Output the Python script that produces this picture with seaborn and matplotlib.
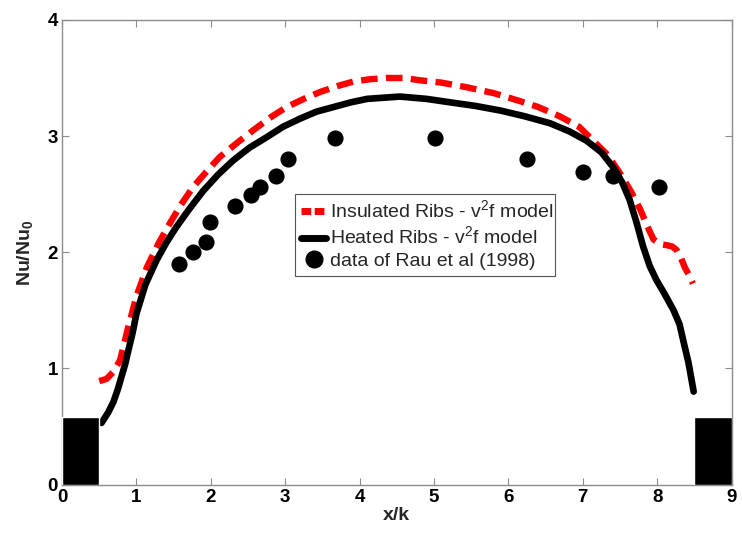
import matplotlib
matplotlib.use("Agg")
import matplotlib.pyplot as plt
import seaborn as sns
import pandas as pd
from matplotlib.lines import Line2D

# ---- data ----
ins_x = [0.50, 0.60, 0.69, 0.78, 0.88, 1.00, 1.14, 1.30, 1.45, 1.60, 1.76, 1.95, 2.12, 2.35,
         2.57, 2.80, 3.02, 3.25, 3.47, 3.70, 3.92, 4.15, 4.36, 4.60, 4.81, 5.10, 5.44, 5.80,
         6.11, 6.40, 6.69, 6.95, 7.14, 7.33, 7.50, 7.65, 7.77, 7.87, 7.95, 8.04, 8.13, 8.20,
         8.26, 8.32, 8.37, 8.43, 8.48]
ins_y = [0.89, 0.91, 0.97, 1.07, 1.33, 1.62, 1.87, 2.08, 2.25, 2.41, 2.56, 2.70, 2.82, 2.94,
         3.05, 3.16, 3.25, 3.32, 3.38, 3.43, 3.47, 3.49, 3.50, 3.50, 3.48, 3.46, 3.42, 3.37,
         3.31, 3.25, 3.17, 3.08, 2.96, 2.84, 2.68, 2.52, 2.37, 2.22, 2.11, 2.07, 2.06, 2.05,
         2.02, 1.95, 1.87, 1.80, 1.73]

heat_x = [0.53, 0.62, 0.69, 0.75, 0.80, 0.85, 0.89, 0.95, 1.00, 1.12, 1.27, 1.40, 1.54, 1.72,
          1.90, 2.10, 2.30, 2.52, 2.75, 2.97, 3.20, 3.42, 3.65, 3.88, 4.10, 4.32, 4.54, 4.90,
          5.22, 5.55, 5.89, 6.22, 6.56, 6.82, 7.05, 7.25, 7.41, 7.53, 7.63, 7.72, 7.81, 7.90,
          7.99, 8.10, 8.22, 8.30, 8.35, 8.42, 8.49]
heat_y = [0.53, 0.62, 0.71, 0.82, 0.93, 1.04, 1.15, 1.31, 1.47, 1.72, 1.93, 2.08, 2.22, 2.38,
          2.53, 2.67, 2.79, 2.90, 2.99, 3.08, 3.15, 3.21, 3.25, 3.29, 3.32, 3.33, 3.34, 3.32,
          3.29, 3.26, 3.22, 3.17, 3.11, 3.04, 2.96, 2.86, 2.73, 2.60, 2.45, 2.26, 2.05, 1.88,
          1.76, 1.64, 1.50, 1.38, 1.24, 1.05, 0.80]

data_x = [1.57, 1.76, 1.93, 1.99, 2.33, 2.54, 2.66, 2.88, 3.04, 3.67, 5.01, 6.25, 7.00, 7.41, 8.02]
data_y = [1.90, 2.00, 2.09, 2.26, 2.40, 2.49, 2.56, 2.66, 2.80, 2.98, 2.98, 2.80, 2.69, 2.66, 2.56]

rib_left = [0.0, 8.5]
rib_width = [0.5, 0.5]
rib_height = [0.58, 0.58]

labels = ["Insulated Ribs - v$^2$f model", "Heated Ribs - v$^2$f model", "data of Rau et al (1998)"]
xticks = [0, 1, 2, 3, 4, 5, 6, 7, 8, 9]
yticks = [0, 1, 2, 3, 4]

# ---- style ----
sns.set_theme(style="white")
plt.rcParams['font.family'] = ['Liberation Sans', 'DejaVu Sans']
plt.rcParams['mathtext.fontset'] = 'custom'
plt.rcParams['mathtext.rm'] = 'Liberation Sans'
plt.rcParams['mathtext.bf'] = 'Liberation Sans:bold'

fig = plt.figure(figsize=(7.42, 5.38), dpi=100)
ax = fig.add_axes([0.0836, 0.0994, 0.9024, 0.8636])

df_ins = pd.DataFrame({"x": ins_x, "y": ins_y})
df_heat = pd.DataFrame({"x": heat_x, "y": heat_y})
df_data = pd.DataFrame({"x": data_x, "y": data_y})

sns.lineplot(data=df_ins, x="x", y="y", ax=ax, color="red", lw=4.6, sort=False,
             estimator=None, zorder=3)
ln = ax.lines[-1]
ln.set_dashes((2.6, 1.3))
ln.set_solid_joinstyle("round")
ln.set_dash_joinstyle("round")
sns.lineplot(data=df_heat, x="x", y="y", ax=ax, color="black", lw=4.8, sort=False,
             estimator=None, zorder=4)
ax.lines[-1].set_solid_joinstyle("round")
sns.scatterplot(data=df_data, x="x", y="y", ax=ax, color="black", s=135, edgecolor="black",
                linewidth=0, zorder=5)

ax.bar(rib_left, rib_height, width=rib_width, align="edge", color="black", zorder=6)

ax.set_xlim(0, 9)
ax.set_ylim(0, 4)
ax.set_xticks(xticks)
ax.set_yticks(yticks)
ax.set_xticklabels([str(t) for t in xticks], fontsize=13.5, fontweight="bold")
ax.set_yticklabels([str(t) for t in yticks], fontsize=13.5, fontweight="bold")
ax.set_xlabel("x/k", fontsize=14, fontweight="bold", labelpad=1)
ax.set_ylabel(r"Nu/Nu$_\mathbf{0}$", fontsize=14, fontweight="bold", labelpad=8)

for s in ax.spines.values():
    s.set_visible(True)
    s.set_color("#8c8c8c")
    s.set_linewidth(1.0)
ax.tick_params(direction="in", length=5, width=0.8, color="#8c8c8c", top=True, right=True,
               bottom=True, left=True, pad=3, labelcolor="black")

handles = [
    Line2D([], [], color="red", lw=5, dashes=(1.4, 0.5)),
    Line2D([], [], color="black", lw=5),
    Line2D([], [], color="black", marker="o", ls="none", markersize=12),
]
leg = ax.legend(handles, labels, loc="lower left", bbox_to_anchor=(0.348, 0.449, 0.388, 0.183),
                mode="expand", fontsize=14, frameon=True, fancybox=False, framealpha=1,
                handlelength=1.3, handletextpad=0.2, borderpad=0.3, labelspacing=0.2,
                borderaxespad=0)
leg.get_frame().set_edgecolor("#555555")
leg.get_frame().set_linewidth(0.8)
leg.set_zorder(10)

fig.savefig("out.png", dpi=100)
